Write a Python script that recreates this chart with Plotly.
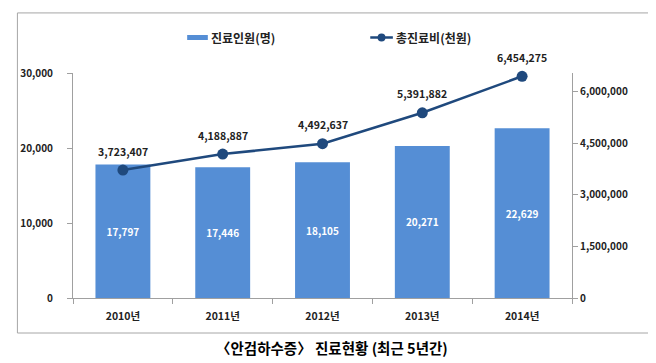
import plotly.graph_objects as go

years = ["2010년", "2011년", "2012년", "2013년", "2014년"]
patients = [17797, 17446, 18105, 20271, 22629]
costs = [3723407, 4188887, 4492637, 5391882, 6454275]
left_ticks = [0, 10000, 20000, 30000]
right_ticks = [0, 1500000, 3000000, 4500000, 6000000]
series_names = ["진료인원(명)", "총진료비(천원)"]

FONT = "Noto Sans CJK KR"
BAR_C = "#558ED5"
LINE_C = "#1F497D"

fig = go.Figure()
fig.add_trace(go.Bar(
    x=years, y=patients, name=series_names[0],
    marker=dict(color=BAR_C, line=dict(width=0)),
    width=0.55,
    texttemplate="%{y:,}", textposition="inside", insidetextanchor="middle",
    textfont=dict(color="white", size=10, family=FONT, weight="bold"),
    yaxis="y", showlegend=False,
))
fig.add_trace(go.Scatter(
    x=years, y=costs, name=series_names[1],
    mode="lines+markers",
    line=dict(color=LINE_C, width=2.5),
    marker=dict(color=LINE_C, size=11),
    yaxis="y2", showlegend=False, cliponaxis=False,
))
for yr, c in zip(years, costs):
    fig.add_annotation(x=yr, y=c, xref="x", yref="y2", text=f"{c:,}", showarrow=False,
                       yshift=19, xanchor="center", yanchor="middle",
                       font=dict(color="#222222", size=10.5, family=FONT, weight="bold"))

axis_font = dict(size=10, family=FONT, color="#222222", weight="bold")
fig.update_layout(
    width=648, height=355,
    margin=dict(l=57, r=84, t=65, b=65),
    paper_bgcolor="white", plot_bgcolor="white",
    showlegend=False,
    xaxis=dict(showline=True, linecolor="#A0A0A0", ticks="outside", tickson="boundaries",
               ticklen=5, tickcolor="#A0A0A0", tickfont=dict(size=10.5, family=FONT, color="#222222", weight="bold"),
               showgrid=False, ticklabelstandoff=8),
    yaxis=dict(range=[0, 30000], tickvals=left_ticks, tickformat=",", showline=True,
               linecolor="#A0A0A0", ticks="outside", ticklen=5, tickcolor="#A0A0A0",
               tickfont=axis_font, showgrid=False, zeroline=False, ticklabelstandoff=12),
    yaxis2=dict(range=[0, 6550000], tickvals=right_ticks, tickformat=",", overlaying="y",
                side="right", showline=True, linecolor="#A0A0A0", ticks="outside", ticklen=5,
                tickcolor="#A0A0A0", tickfont=axis_font, showgrid=False, zeroline=False),
    font=dict(family=FONT),
)

# outer frame
fig.add_shape(type="rect", xref="paper", yref="paper",
              x0=-0.1114, x1=1.154, y0=-0.1556, y1=1.267,
              line=dict(color="#A6A6A6", width=1), fillcolor="rgba(0,0,0,0)", layer="below")

# custom legend
legend_font = dict(size=12, family=FONT, color="#222222", weight="bold")
fig.add_shape(type="rect", xref="paper", yref="paper",
              x0=0.2288, x1=0.2702, y0=1.1467, y1=1.1689,
              line=dict(width=0), fillcolor=BAR_C)
fig.add_annotation(text=series_names[0], xref="paper", yref="paper", x=0.2722, y=1.1578,
                   showarrow=False, xanchor="left", yanchor="middle", font=legend_font)
fig.add_shape(type="line", xref="paper", yref="paper",
              x0=0.5957, x1=0.6410, y0=1.1578, y1=1.1578,
              line=dict(color=LINE_C, width=2.5))
fig.add_shape(type="circle", xref="paper", yref="paper",
              x0=0.6183 - 0.0079, x1=0.6183 + 0.0079, y0=1.1578 - 0.0178, y1=1.1578 + 0.0178,
              line=dict(width=0), fillcolor=LINE_C)
fig.add_annotation(text=series_names[1], xref="paper", yref="paper", x=0.6430, y=1.1578,
                   showarrow=False, xanchor="left", yanchor="middle", font=legend_font)

fig.add_annotation(text="〈안검하수증〉 진료현황 (최근 5년간)", xref="paper", yref="paper",
                   x=0.519, y=-0.222, showarrow=False, xanchor="center", yanchor="middle",
                   font=dict(size=14.5, family=FONT, color="black", weight="bold"))

fig.write_html("out.html")
